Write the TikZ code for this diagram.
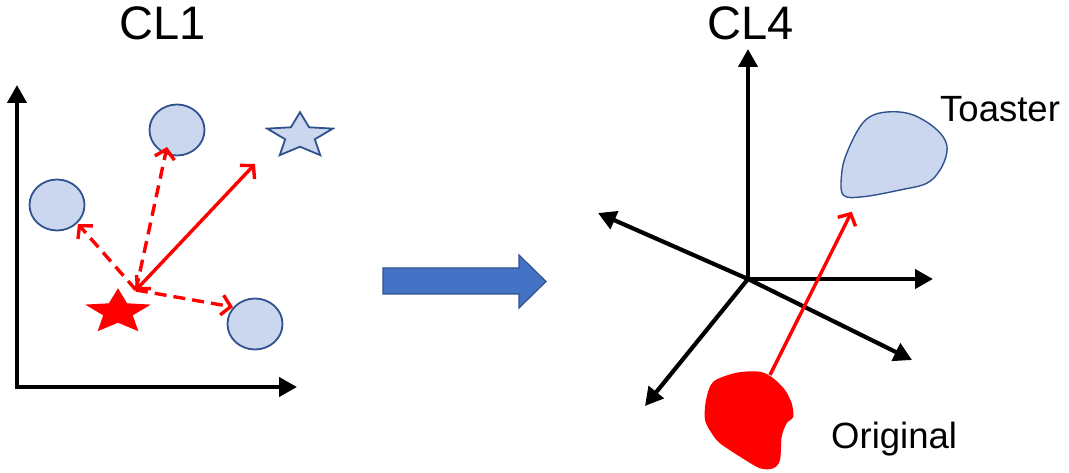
\documentclass[tikz,border=0pt]{standalone}
\usepackage{fontspec}
\setmainfont{Liberation Sans}
\usetikzlibrary{arrows.meta,shapes.geometric}
\definecolor{lblue}{HTML}{CAD7EE}
\definecolor{dblue}{HTML}{2F528F}
\definecolor{mblue}{HTML}{4472C4}
\definecolor{myred}{HTML}{FF0000}
\begin{document}
\begin{tikzpicture}[x=1pt,y=-1pt,
  axis/.style={line width=4.2pt,-{Triangle[length=18pt,width=19pt]}},
  redsolid/.style={line width=3.4pt,myred,-{Straight Barb[length=9pt,width=20pt,line width=3.4pt]}},
  reddash/.style={redsolid,dash pattern=on 12pt off 7pt},
  blob/.style={ellipse,draw=dblue,fill=lblue,line width=1.8pt,minimum width=55pt,minimum height=51pt,inner sep=0pt},
  title/.style={font=\fontsize{47}{56}\selectfont,anchor=base,inner sep=0pt},
  lab/.style={font=\fontsize{36.5}{43}\selectfont,anchor=base west,inner sep=0pt},
  fivestar/.pic={\path[pic actions] (0,-23.8) -- (9.1,-8.7) -- (32.8,-7.4) -- (14.8,3.3) -- (20.3,19.2) -- (0,10.7) -- (-20.3,19.2) -- (-14.8,3.3) -- (-32.8,-7.4) -- (-9.1,-8.7) -- cycle;}
]
\useasboundingbox (0,0) rectangle (1069,473);

% ---------- left panel ----------
\node[title] (cl1) at (163,40) {CL1};
\coordinate (o1) at (17,387);
\coordinate (y1) at (17,85);
\coordinate (x1) at (297,387);
\draw[axis] ([xshift=-2.1pt]o1) -- (x1);
\draw[axis] ([yshift=2.1pt]o1) -- (y1);

\node[blob] (ctop) at (177,130) {};
\node[blob] (cleft) at (57,205) {};
\node[blob] (cbr) at (255,324) {};
\pic[fill=lblue,draw=dblue,line width=1.8pt] (bstar) at (300,136) {fivestar};
\pic[fill=myred] (rstar) at (118,312) {fivestar};

\coordinate (src) at (136,290);
\coordinate (ttop) at (167,147);
\coordinate (tleft) at (78,224);
\coordinate (tbr) at (233,307);
\coordinate (tstar) at (255,164);
\draw[reddash] (src) -- (ttop);
\draw[reddash] (src) -- (tleft);
\draw[reddash] (src) -- (tbr);
\draw[redsolid,{Straight Barb[length=9pt,width=20pt,line width=3.4pt]}-{Straight Barb[length=9pt,width=20pt,line width=3.4pt]}] (src) -- (tstar);

% ---------- block arrow ----------
\draw[fill=mblue,draw=dblue,line width=1.2pt] (383,268) -- (519,268) -- (519,255) -- (546,281.5) -- (519,308) -- (519,294) -- (383,294) -- cycle;

% ---------- right panel ----------
\node[title] (cl4) at (751,40) {CL4};
\coordinate (o2) at (748,279);
\coordinate (up) at (748,49);
\coordinate (rt) at (933,279);
\coordinate (ul) at (598,213);
\coordinate (lr) at (912,360);
\coordinate (ll) at (645,406);
\draw[axis] ([yshift=2.1pt]o2) -- (up);
\draw[axis] ([xshift=-2.1pt]o2) -- (rt);
\draw[axis] (o2) -- (ul);
\draw[axis] (o2) -- (lr);
\draw[axis] (o2) -- (ll);

\draw[draw=dblue,fill=lblue,line width=1.4pt] plot[smooth cycle,tension=0.6] coordinates {
(843.3,195) (841.7,173.3) (846.7,153.3) (860,126.7) (873.3,115) (893.3,111.7) (913.3,115) (933.3,126.7) (945,140) (946.7,153.3) (940,170) (926.7,183.3) (900,190) (863.3,196.7)};

\fill[myred] plot[smooth cycle,tension=0.5] coordinates {
(713.3,381.7) (736.7,372.7) (760,371.7) (773.3,378.3) (785,390) (791.7,403.3) (793.3,416.7) (786.7,423.3) (781.7,436.7) (780,460) (773.3,468.3) (760,468.3) (740,456.7) (720,443.3) (711.7,433.3) (705,420) (706,400)};

\coordinate (osrc) at (770,375);
\coordinate (otip) at (851.7,211.7);
\draw[redsolid] (osrc) -- (otip);

\node[lab] (toaster) at (940,122) {Toaster};
\node[lab] (orig) at (831,448) {Original};
\end{tikzpicture}
\end{document}
